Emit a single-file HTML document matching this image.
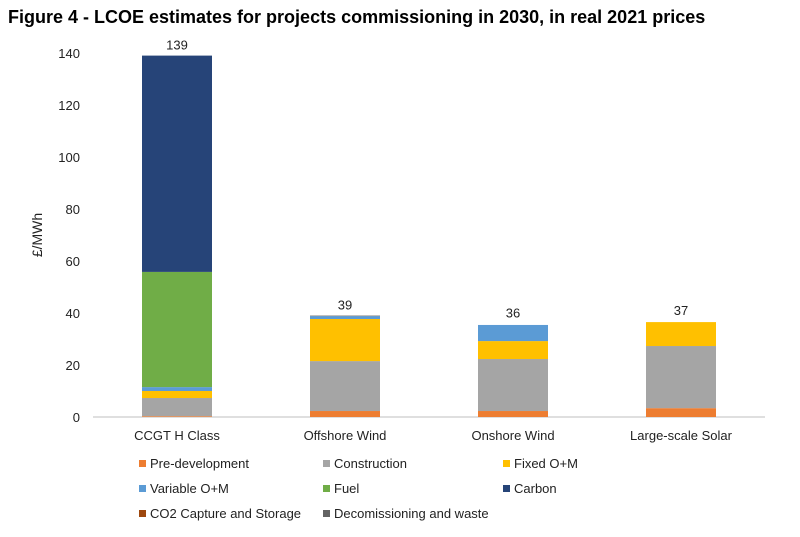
<!DOCTYPE html>
<html><head><meta charset="utf-8"><style>
body{margin:0;background:#fff;width:800px;height:532px;overflow:hidden;font-family:"Liberation Sans",Arial,sans-serif}
</style></head><body>
<svg id="chart" width="800" height="532" xmlns="http://www.w3.org/2000/svg">
<text x="8" y="23" font-size="18" font-weight="bold" fill="#000">Figure 4 - LCOE estimates for projects commissioning in 2030, in real 2021 prices</text>
<text transform="translate(42,235) rotate(-90)" text-anchor="middle" font-size="14" fill="#222">£/MWh</text>
<g id="plot"></g><g id="legend"></g>
</svg>
<script>
const categories=["CCGT H Class","Offshore Wind","Onshore Wind","Large-scale Solar"];
const seriesNames=["Pre-development","Construction","Fixed O+M","Variable O+M","Fuel","Carbon","CO2 Capture and Storage","Decomissioning and waste"];
const colors=["#ED7D31","#A5A5A5","#FFC000","#5B9BD5","#70AD47","#264478","#9E480E","#636363"];
const preDev=[0.3,2.3,2.3,3.4];
const construction=[7.0,19.2,20.0,23.9];
const fixedOM=[2.7,16.2,6.9,9.2];
const variableOM=[1.5,1.1,6.2,0];
const fuel=[44.3,0,0,0];
const carbon=[83.2,0,0,0];
const ccs=[0,0,0,0];
const decom=[0,0.2,0,0];
const totals=[139,39,36,37];
const yTicks=[0,20,40,60,80,100,120,140];
const series=[preDev,construction,fixedOM,variableOM,fuel,carbon,ccs,decom];
const NS="http://www.w3.org/2000/svg";
const x0=93,x1=765,yBase=417,yTop=53,yMax=140;
const y=v=>yBase-(v/yMax)*(yBase-yTop);
const band=(x1-x0)/categories.length;
const xc=i=>x0+band*(i+0.5);
const barW=70;
const plot=document.getElementById('plot');
function mk(tag,attrs,parent){const e=document.createElementNS(NS,tag);for(const k in attrs)e.setAttribute(k,attrs[k]);parent.appendChild(e);return e;}
yTicks.forEach(t=>{const tx=mk('text',{x:80,y:y(t)+5,'text-anchor':'end','font-size':13,fill:'#222'},plot);tx.textContent=t;

});
const ax=mk('line',{x1:x0,x2:x1,y1:yBase,y2:yBase,stroke:'#bfbfbf','stroke-width':1},plot);


categories.forEach((c,i)=>{let acc=0;
series.forEach((s,j)=>{const v=s[i];if(v<=0)return;
const r=mk('rect',{x:xc(i)-barW/2,y:y(acc+v),width:barW,height:y(acc)-y(acc+v),fill:colors[j]},plot);


acc+=v;});
const lab=mk('text',{x:xc(i),y:y(totals[i])-6,'text-anchor':'middle','font-size':13,fill:'#222'},plot);lab.textContent=totals[i];


const cl=mk('text',{x:xc(i),y:440,'text-anchor':'middle','font-size':13,fill:'#222'},plot);cl.textContent=c;

});
const leg=document.getElementById('legend');
const lx=[139,323,503],ly=[468,493,518];
seriesNames.forEach((n,k)=>{const gx=lx[k%3],gy=ly[Math.floor(k/3)];
const g=mk('g',{},leg);


mk('rect',{x:gx,y:gy-8,width:7,height:7,fill:colors[k]},g);
const t=mk('text',{x:gx+11,y:gy,'font-size':13,fill:'#222'},g);t.textContent=n;});
</script>
</body></html>
